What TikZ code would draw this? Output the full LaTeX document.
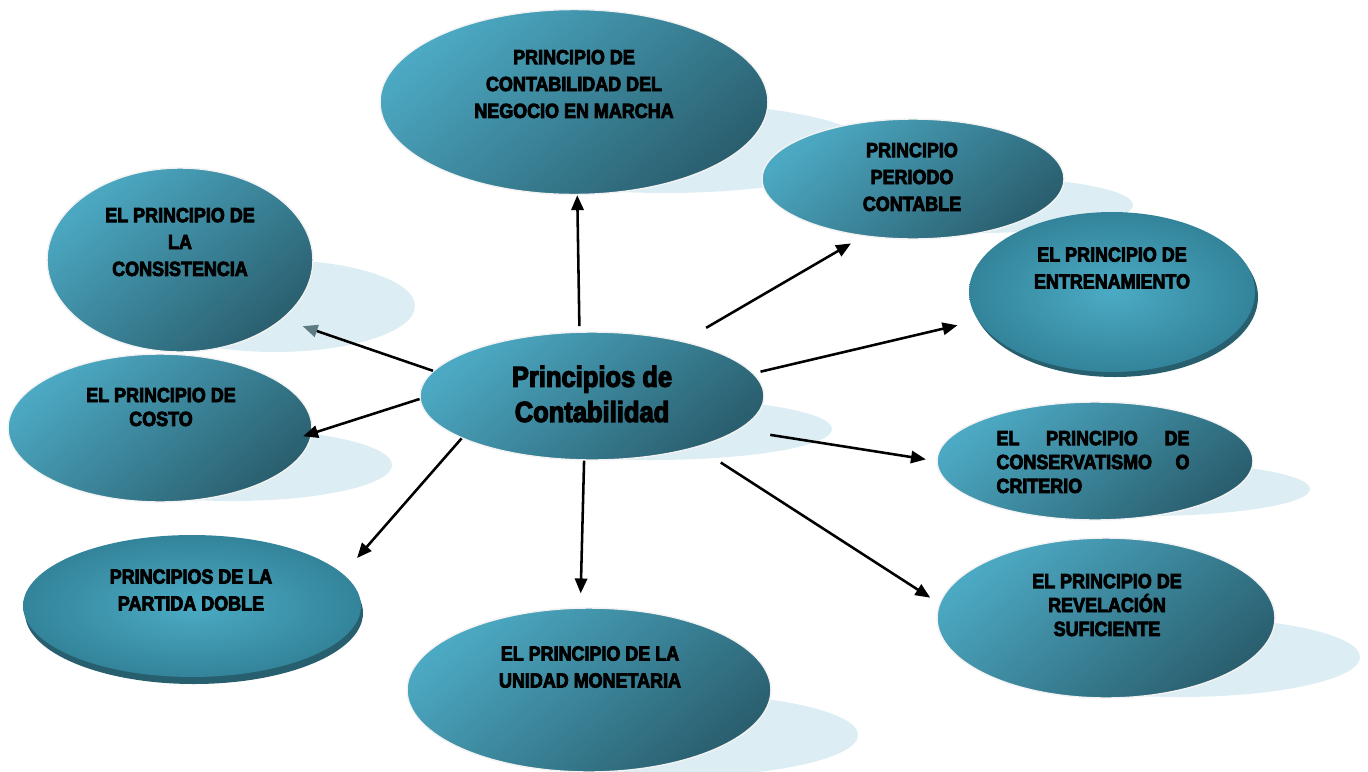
\documentclass[tikz,border=0pt]{standalone}
\usepackage{fontspec}
\usetikzlibrary{shapes.geometric,arrows.meta}
\newfontfamily\bubblefont{Liberation Sans Bold}[FakeBold=4,FakeStretch=0.88]
\definecolor{tealLight}{HTML}{4CA9C3}
\definecolor{tealDark}{HTML}{2A5F6F}
\definecolor{glowIn}{HTML}{4BABC4}
\definecolor{glowOut}{HTML}{33849A}
\definecolor{rimDark}{HTML}{285F6E}
\definecolor{shadowBlue}{HTML}{DCEEF3}
\definecolor{tipGray}{HTML}{5E7A83}
\hbadness=10000
\tikzset{
  bubble/.style={ellipse, inner sep=0pt, draw=gray!10, line width=0.8pt,
    top color=tealLight, bottom color=tealDark, shading angle=40},
  glow/.style={ellipse, inner sep=0pt, shading=radial, inner color=glowIn, outer color=glowOut},
  backshadow/.style={fill=shadowBlue},
  txt/.style={font=\bubblefont\fontsize{11.6}{15.3}\selectfont, align=center, inner sep=0pt},
  tighttxt/.style={txt, font=\bubblefont\fontsize{11.6}{13.6}\selectfont},
  link/.style={-{Triangle[length=8.5pt,width=7pt]}, line width=1.45pt}
}
\begin{document}
\begin{tikzpicture}[x=0.02cm,y=-0.02cm]
    \useasboundingbox (0,0) rectangle (1368,771);
    \fill[backshadow] (665,148) ellipse [x radius=205, y radius=45];
    \fill[backshadow] (978,205) ellipse [x radius=155, y radius=28];
    \fill[backshadow] (275,306) ellipse [x radius=140, y radius=46];
    \fill[backshadow] (232,465) ellipse [x radius=160, y radius=36];
    \fill[backshadow] (651,429) ellipse [x radius=181, y radius=31];
    \fill[backshadow] (1145,489) ellipse [x radius=165, y radius=27];
    \fill[backshadow] (1180,657) ellipse [x radius=180, y radius=40];
    \fill[backshadow] (668,735) ellipse [x radius=190, y radius=42];
    \fill[rimDark] (1115,297) ellipse [x radius=143, y radius=80];
    \fill[rimDark] (194,613) ellipse [x radius=169, y radius=71];

    \node[bubble, minimum width=7.76cm, minimum height=3.7cm] (negocio) at (574,102) {};
    \node[bubble, minimum width=6.04cm, minimum height=2.4cm] (periodo) at (913,179) {};
    \node[glow, minimum width=5.72cm, minimum height=3.2cm] (entren) at (1112,292) {};
    \node[bubble, minimum width=5.32cm, minimum height=3.68cm] (consist) at (180,260) {};
    \node[bubble, minimum width=6.08cm, minimum height=2.96cm] (costo) at (160,428) {};
    \node[bubble, minimum width=6.88cm, minimum height=2.56cm] (hub) at (592,396) {};
    \node[bubble, minimum width=6.32cm, minimum height=2.36cm] (conserv) at (1095,461) {};
    \node[bubble, minimum width=6.76cm, minimum height=3.2cm] (revel) at (1106,618) {};
    \node[glow, minimum width=6.76cm, minimum height=2.84cm] (partida) at (192,606) {};
    \node[bubble, minimum width=7.28cm, minimum height=3.28cm] (unidad) at (589,690) {};

    \node[txt] (negocio-t) at (574,84) {PRINCIPIO DE\\CONTABILIDAD DEL\\NEGOCIO EN MARCHA};
    \node[txt] (periodo-t) at (912,177) {PRINCIPIO\\PERIODO\\CONTABLE};
    \node[txt] (entren-t) at (1112,268) {EL PRINCIPIO DE\\ENTRENAMIENTO};
    \node[txt] (consist-t) at (180,242) {EL PRINCIPIO DE\\LA\\CONSISTENCIA};
    \node[tighttxt] (costo-t) at (161,407) {EL PRINCIPIO DE\\COSTO};
    \node[txt, font=\bubblefont\fontsize{16.5}{20}\selectfont] (hub-t) at (592,394) {Principios de\\Contabilidad};
    \node[tighttxt, align=left, text width=3.86cm] (conserv-t) at (1093,462)
      {EL\hfill PRINCIPIO\hfill DE\\CONSERVATISMO\hfill O\\CRITERIO};
    \node[tighttxt] (revel-t) at (1107,605) {EL PRINCIPIO DE\\REVELACIÓN\\SUFICIENTE};
    \node[txt] (partida-t) at (191,590) {PRINCIPIOS DE LA\\PARTIDA DOBLE};
    \node[txt] (unidad-t) at (590,667) {EL PRINCIPIO DE LA\\UNIDAD MONETARIA};

    \draw[link, shorten <=3pt] (hub.101) -- (negocio.272);
    \draw[link, shorten <=15pt, shorten >=8pt] (hub.31) -- (periodo.229);
    \draw[link, shorten <=4pt, shorten >=12pt] (hub.8) -- (entren.192);
    \draw[link, shorten <=18pt, shorten >=6pt] (hub.347) -- (conserv.180);
    \draw[link, shorten <=16pt, shorten >=6pt] (hub.334) -- (revel.175);
    \draw[link, shorten >=8pt] (hub.263) -- (unidad.96);
    \draw[link, shorten >=12pt] (hub.198) -- (partida.12);
    \draw[link, shorten >=-5.5pt] (hub.181) -- (costo.358);
    \draw[link, -{Triangle[length=8.5pt,width=7pt,color=tipGray]}, shorten >=12pt] (hub.171) -- (consist.330);
\end{tikzpicture}
\end{document}
